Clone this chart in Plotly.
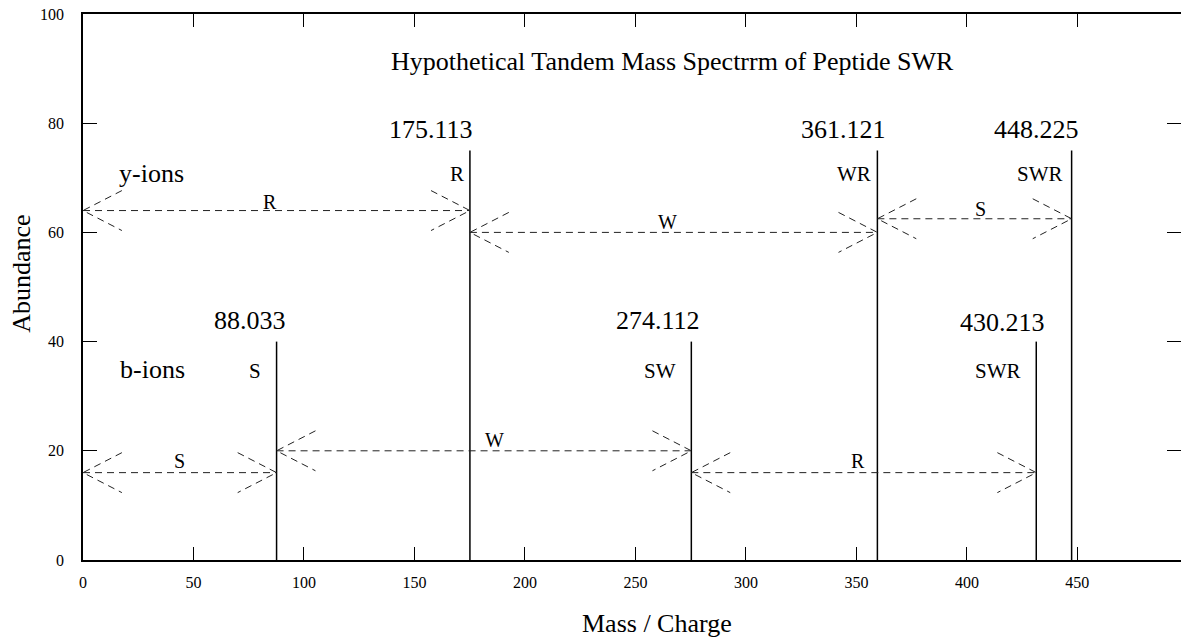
import plotly.graph_objects as go

# ---------------- data ----------------
# peak positions (as drawn) and heights
b_mz = [87.6, 275.3, 431.4]
b_abund = [40, 40, 40]
b_labels = ["88.033", "274.112", "430.213"]
b_frag = ["S", "SW", "SWR"]

y_mz = [175.1, 359.5, 447.4]
y_abund = [75, 75, 75]
y_labels = ["175.113", "361.121", "448.225"]
y_frag = ["R", "WR", "SWR"]

# label positions
b_label_x = [75.6, 260.0, 416.1]
b_label_y = [43.8, 43.8, 43.5]
y_label_x = [157.3, 344.1, 431.4]
y_label_y = [78.8, 78.8, 78.8]
b_frag_x = [78.0, 260.9, 414.3]
b_frag_y = [34.6, 34.6, 34.6]
y_frag_x = [169.2, 348.8, 432.9]
y_frag_y = [70.7, 70.7, 70.7]

# residue-difference arrows
y_arrow_start = [0, 175.1, 359.5]
y_arrow_end = [175.1, 359.5, 447.4]
y_arrow_level = [64, 60, 62.5]
y_arrow_text = ["R", "W", "S"]
y_arrow_text_x = [84.5, 264.7, 406.2]
y_arrow_text_y = [65.6, 61.9, 64.3]

b_arrow_start = [0, 87.6, 275.3]
b_arrow_end = [87.6, 275.3, 431.4]
b_arrow_level = [16, 20, 16]
b_arrow_text = ["S", "W", "R"]
b_arrow_text_x = [43.7, 186.2, 350.5]
b_arrow_text_y = [18.2, 21.9, 18.1]

x_ticks = [0, 50, 100, 150, 200, 250, 300, 350, 400, 450]
y_ticks = [0, 20, 40, 60, 80, 100]

title_text = "Hypothetical Tandem Mass Spectrrm of Peptide SWR"
FONT = "Liberation Serif, Times New Roman, serif"

# arrow head size in data units
HEAD_X = 17.6
HEAD_Y = 3.66

fig = go.Figure()

# peaks
px, py = [], []
for m, a in zip(b_mz + y_mz, b_abund + y_abund):
    px += [m, m, None]
    py += [0, a, None]
fig.add_trace(go.Scatter(x=px, y=py, mode="lines",
                         line=dict(color="black", width=1.5),
                         hoverinfo="skip", showlegend=False))

# dashed double arrows
ax, ay = [], []
for s_list, e_list, l_list in [(y_arrow_start, y_arrow_end, y_arrow_level),
                               (b_arrow_start, b_arrow_end, b_arrow_level)]:
    for s, e, lv in zip(s_list, e_list, l_list):
        ax += [s, e, None]
        ay += [lv, lv, None]
        ax += [s + HEAD_X, s, s + HEAD_X, None]
        ay += [lv + HEAD_Y, lv, lv - HEAD_Y, None]
        ax += [e - HEAD_X, e, e - HEAD_X, None]
        ay += [lv + HEAD_Y, lv, lv - HEAD_Y, None]
fig.add_trace(go.Scatter(x=ax, y=ay, mode="lines",
                         line=dict(color="#222222", width=1, dash="7px,5px"),
                         hoverinfo="skip", showlegend=False))

# dummy trace for right axis ticks
fig.add_trace(go.Scatter(x=[None], y=[None], yaxis="y2", showlegend=False,
                         hoverinfo="skip"))

ann = []
def add_text(x, y, t, size):
    ann.append(dict(x=x, y=y, text=t, xref="x", yref="y", showarrow=False,
                    xanchor="center", yanchor="middle",
                    font=dict(family=FONT, size=size, color="black")))

for x, y, t in zip(b_label_x, b_label_y, b_labels):
    add_text(x, y, t, 26)
for x, y, t in zip(y_label_x, y_label_y, y_labels):
    add_text(x, y, t, 26)
for x, y, t in zip(b_frag_x, b_frag_y, b_frag):
    add_text(x, y, t, 21)
for x, y, t in zip(y_frag_x, y_frag_y, y_frag):
    add_text(x, y, t, 21)
for x, y, t in zip(y_arrow_text_x, y_arrow_text_y, y_arrow_text):
    add_text(x, y, t, 20)
for x, y, t in zip(b_arrow_text_x, b_arrow_text_y, b_arrow_text):
    add_text(x, y, t, 20)
add_text(31.2, 70.7, "y-ions", 26)
add_text(31.4, 34.8, "b-ions", 26)
add_text(266.8, 91.3, title_text, 26)

# axis titles
ann.append(dict(x=-0.0556, y=0.524, xref="paper", yref="paper", text="Abundance",
                textangle=-90, showarrow=False, xanchor="center", yanchor="middle",
                font=dict(family=FONT, size=26, color="black")))
ann.append(dict(x=0.5232, y=-0.117, xref="paper", yref="paper", text="Mass / Charge",
                showarrow=False, xanchor="center", yanchor="middle",
                font=dict(family=FONT, size=26, color="black")))

fig.update_layout(
    width=1181, height=639,
    margin=dict(l=83, r=0, t=14, b=79),
    paper_bgcolor="white", plot_bgcolor="white",
    showlegend=False,
    annotations=ann,
    xaxis=dict(range=[0, 496.9], tickvals=x_ticks, ticks="inside", ticklen=13,
               tickwidth=1, tickcolor="black", showline=True, linecolor="black",
               linewidth=1.5, mirror="ticks", showgrid=False, zeroline=False,
               ticklabelstandoff=7,
               tickfont=dict(family=FONT, size=16, color="black")),
    yaxis=dict(range=[0, 100], tickvals=y_ticks, ticks="inside", ticklen=14,
               tickwidth=1, tickcolor="black", showline=True, linecolor="black",
               linewidth=1.5, mirror=False, showgrid=False, zeroline=False,
               ticklabelstandoff=14,
               tickfont=dict(family=FONT, size=16, color="black")),
    yaxis2=dict(range=[0, 100], tickvals=y_ticks, ticks="inside", ticklen=14,
                tickwidth=1, tickcolor="black", showline=False, overlaying="y",
                side="right", showticklabels=False, showgrid=False, zeroline=False),
)

fig.write_html("out.html",
               config={"displayModeBar": False},
               post_script="document.body.style.margin='0';"
                           "document.body.style.overflow='hidden';")
